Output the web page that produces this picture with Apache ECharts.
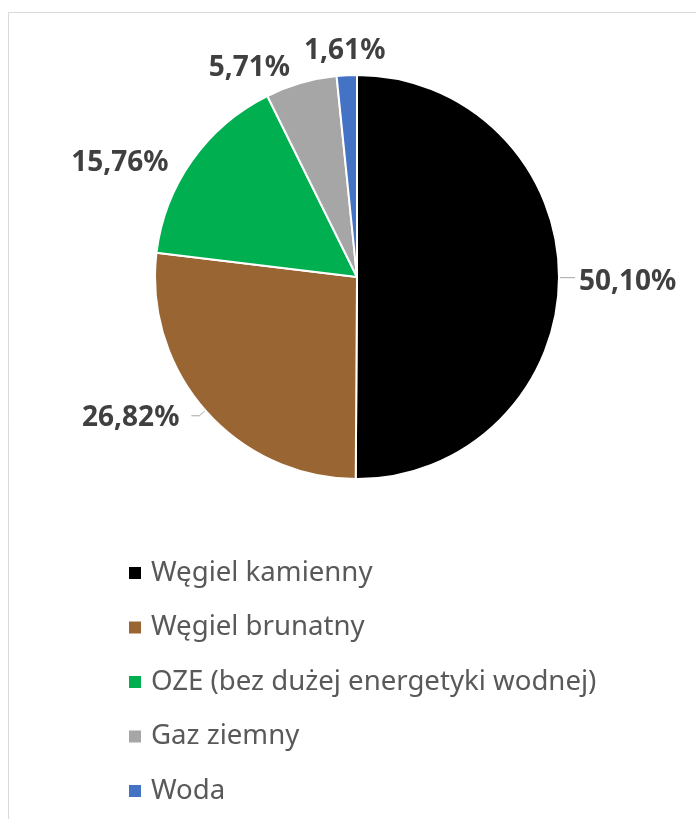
<!DOCTYPE html>
<html>
<head>
<meta charset="utf-8">
<script src="https://cdn.jsdelivr.net/npm/echarts@6/dist/echarts.min.js"></script>
<style>
  html, body { margin: 0; padding: 0; background: #fff; }
  #chart { width: 696px; height: 819px; }
</style>
</head>
<body>
<div id="chart"></div>
<script>
// dane: struktura produkcji energii
var names = ['Węgiel kamienny', 'Węgiel brunatny', 'OZE (bez dużej energetyki wodnej)', 'Gaz ziemny', 'Woda'];
var values = [50.10, 26.82, 15.76, 5.71, 1.61];
var colors = ['#000000', '#996633', '#00B050', '#A6A6A6', '#4472C4'];
// przesuniecia etykiet (Excel ustawia je inaczej niz echarts)
var labelShift = [[-1, 4], [-7, 2], [-9, 7], [50, -29], [52, -16]];

var chart = echarts.init(document.getElementById('chart'));

var pieData = [];
for (var i = 0; i < names.length; i++) {
    pieData.push({
        name: names[i],
        value: values[i],
        itemStyle: { color: colors[i] },
        labelLine: { show: i < 2 }
    });
}

var option = {
    animation: false,
    graphic: [{
        type: 'rect',
        shape: { x: 8.5, y: 12.5, width: 800, height: 900 },
        style: { fill: 'none', stroke: '#D9D9D9', lineWidth: 1 },
        silent: true
    }],
    legend: {
        orient: 'vertical',
        left: 127,
        top: 559,
        padding: 0,
        icon: 'rect',
        itemWidth: 14,
        itemHeight: 14,
        itemGap: 26.5,
        data: names,
        textStyle: {
            fontFamily: 'Noto Sans',
            fontSize: 27.6,
            lineHeight: 28,
            color: '#595959',
            padding: [0, 0, 0, 4]
        }
    },
    series: [{
        type: 'pie',
        center: [357, 277],
        radius: 202,
        startAngle: 90,
        clockwise: true,
        itemStyle: { borderColor: '#fff', borderWidth: 2 },
        label: {
            show: true,
            position: 'outside',
            formatter: function (p) {
                return p.value.toFixed(2).replace('.', ',') + '%';
            },
            fontFamily: 'Noto Sans',
            fontWeight: 'bold',
            fontSize: 28,
            color: '#404040'
        },
        labelLine: {
            length: 8,
            length2: 8,
            lineStyle: { color: '#A6A6A6', width: 1 }
        },
        labelLayout: function (p) {
            var s = labelShift[p.dataIndex];
            return { dx: s[0], dy: s[1] };
        },
        data: pieData
    }]
};

chart.setOption(option);
</script>
</body>
</html>
